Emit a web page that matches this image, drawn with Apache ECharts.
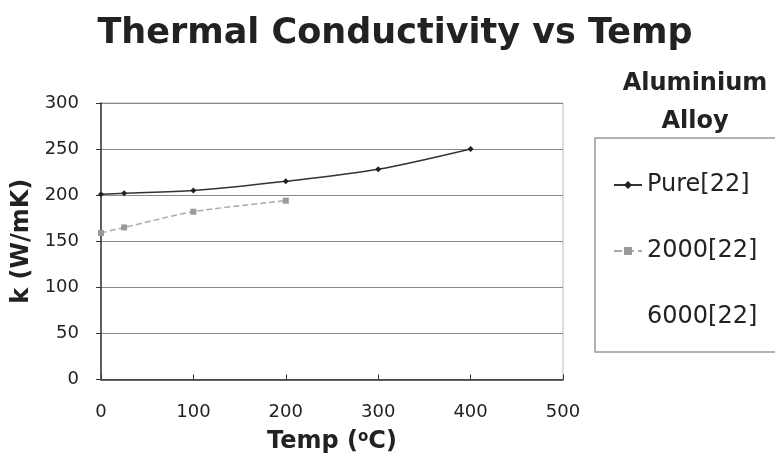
<!DOCTYPE html>
<html><head><meta charset="utf-8">
<script src="https://cdn.jsdelivr.net/npm/echarts@6/dist/echarts.min.js"></script>
<style>html,body{margin:0;padding:0;background:#fff}#c{width:775px;height:459px}</style>
</head><body><div id="c"></div>
<script>
const pureTemp = [0, 25, 100, 200, 300, 400];
const pureK = [201, 202, 205, 215, 228, 250];
const a2000Temp = [0, 25, 100, 200];
const a2000K = [159, 165, 182, 194];
const a6000Temp = [];
const a6000K = [];
const seriesNames = ['Pure[22]', '2000[22]', '6000[22]'];
const xTicks = [0, 100, 200, 300, 400, 500];
const yTicks = [0, 50, 100, 150, 200, 250, 300];

const zip = (a, b) => a.map((v, i) => [v, b[i]]);
const F = '"DejaVu Sans", "Liberation Sans", Arial, sans-serif';
const chart = echarts.init(document.getElementById('c'));
chart.setOption({
  animation: false,
  backgroundColor: '#fff',
  title: [
    { text: 'Thermal Conductivity vs Temp', left: 390, textAlign: 'center', top: 11,
      textStyle: { fontFamily: F, fontWeight: 'bold', fontSize: 35, color: '#222' } },
    { text: 'Aluminium\nAlloy', left: 690, textAlign: 'center', top: 60,
      textStyle: { fontFamily: F, fontWeight: 'bold', fontSize: 24, color: '#222', lineHeight: 38 } }
  ],
  graphic: [
    { type: 'rect', shape: { x: 595, y: 138, width: 190, height: 214 },
      style: { fill: '#fff', stroke: '#999', lineWidth: 1.5 }, z: 0 }
  ],
  legend: {
    orient: 'vertical', left: 608, top: 168, itemGap: 42, itemWidth: 28, itemHeight: 10,
    textStyle: { fontFamily: F, fontSize: 24, color: '#222' },
    data: seriesNames
  },
  grid: { left: 101, right: 212, top: 103, bottom: 78, show: true, borderColor: '#bbb', borderWidth: 1 },
  xAxis: {
    type: 'value', min: 0, max: 500, interval: 100,
    name: 'Temp ({s|o}C)', nameLocation: 'middle', nameGap: 50,
    nameTextStyle: { fontFamily: F, fontWeight: 'bold', fontSize: 24, color: '#222',
      rich: { s: { fontFamily: F, fontWeight: 'bold', fontSize: 15, verticalAlign: 'top', padding: [0,0,10,0], color: '#222' } } },
    axisLine: { show: true, lineStyle: { color: '#333', width: 1.5 } },
    axisTick: { show: true, inside: true, length: 5, lineStyle: { color: '#333' } },
    axisLabel: { fontFamily: F, fontSize: 18, color: '#222', margin: 24 },
    splitLine: { show: false }
  },
  yAxis: {
    type: 'value', min: 0, max: 300, interval: 50,
    name: 'k (W/mK)', nameLocation: 'middle', nameGap: 64,
    nameTextStyle: { fontFamily: F, fontWeight: 'bold', fontSize: 24, color: '#222' },
    axisLine: { show: true, lineStyle: { color: '#333', width: 1.5 } },
    axisTick: { show: true, length: 5, lineStyle: { color: '#333' } },
    axisLabel: { fontFamily: F, fontSize: 18, color: '#222', margin: 22 },
    splitLine: { show: true, lineStyle: { color: '#888', width: 1 } }
  },
  series: [
    { name: seriesNames[0], type: 'line', smooth: 0.3, data: zip(pureTemp, pureK),
      symbol: 'diamond', symbolSize: 6, lineStyle: { color: '#333', width: 1.5 }, itemStyle: { color: '#222' } },
    { name: seriesNames[1], type: 'line', smooth: 0.3, data: zip(a2000Temp, a2000K),
      symbol: 'rect', symbolSize: 6, lineStyle: { color: '#aaa', width: 1.5, type: 'dashed' }, itemStyle: { color: '#999' } },
    { name: seriesNames[2], type: 'line', data: zip(a6000Temp, a6000K),
      symbol: 'none', lineStyle: { color: 'rgba(0,0,0,0)', width: 0 }, itemStyle: { color: 'rgba(0,0,0,0)' } }
  ]
});
</script></body></html>
